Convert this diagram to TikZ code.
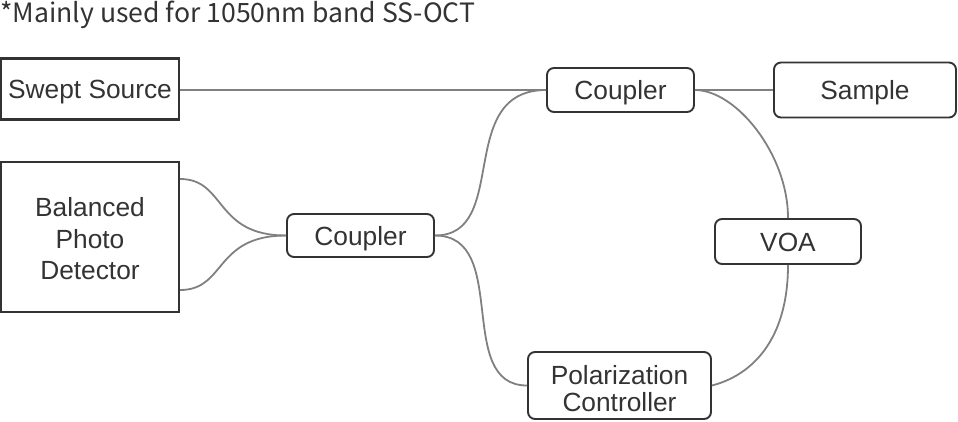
\documentclass[tikz,border=0pt]{standalone}
\usepackage{fontspec}
\setmainfont{Liberation Sans}
\newfontfamily\titlefont{Noto Sans CJK JP}
\definecolor{ink}{HTML}{333333}
\definecolor{wire}{HTML}{808080}
\begin{document}
\begin{tikzpicture}[x=1pt,y=-1pt,
  boxfont/.style={font=\fontsize{26.3}{31.5}\selectfont},
  box/.style={draw=ink, line width=2.2pt, text=ink, boxfont, inner sep=0pt, align=center, text height=19pt, text depth=0pt},
  rbox/.style={box, line width=1.9pt, rounded corners=7pt},
  frame/.style={draw=ink, line width=2.2pt, inner sep=0pt},
  rframe/.style={frame, line width=1.9pt, rounded corners=7pt},
  label/.style={text=ink, inner sep=0pt, align=center},
  wirel/.style={draw=wire, line width=1.8pt}]
\useasboundingbox (0,0) rectangle (958,421);
\node[anchor=base west, text=ink, font=\titlefont\fontsize{26.6}{30}\selectfont, inner sep=0pt] (title) at (0,22.7) {*Mainly used for 1050nm band SS-OCT};
\node[box, minimum width=178, minimum height=61] (src) at (90,89) {Swept Source};
\node[frame, minimum width=178, minimum height=150] (bpd) at (90,237) {};
\node[label, font=\fontsize{26.3}{31.5}\selectfont] (bpdtext) at ([yshift=-2pt]bpd.center) {Balanced\\Photo\\Detector};
\node[rbox, minimum width=147, minimum height=43] (c1) at (360.5,235.5) {Coupler};
\node[rbox, minimum width=147, minimum height=44] (c2) at (620.5,90) {Coupler};
\node[rbox, minimum width=182, minimum height=55] (sample) at (865,90) {Sample};
\node[rbox, minimum width=146, minimum height=45] (voa) at (788,241.5) {VOA};
\node[rframe, minimum width=183, minimum height=67] (pc) at (619.5,385.5) {};
\node[label, font=\fontsize{26.3}{27}\selectfont] (pctext) at ([yshift=-3pt]pc.center) {Polarization\\Controller};
\draw[wirel] (src.east |- c2.west) -- (c2.west);
\draw[wirel] (c2.east) -- (sample.west);
\draw[wirel] ([yshift=58pt]bpd.east) .. controls +(46,0) and +(-72,0) .. (c1.west);
\draw[wirel] ([yshift=-53pt]bpd.east) .. controls +(46,0) and +(-72,0) .. (c1.west);
\draw[wirel] (c1.east) .. controls +(76,0) and +(-92,0) .. (c2.west);
\draw[wirel] (c1.east) .. controls +(76,0) and +(-73,0) .. (pc.west);
\draw[wirel] (c2.east) .. controls +(41,0) and +(0,-64) .. (voa.north);
\draw[wirel] (voa.south) .. controls +(0,76) and +(39,-10) .. (pc.east);
\end{tikzpicture}
\end{document}
